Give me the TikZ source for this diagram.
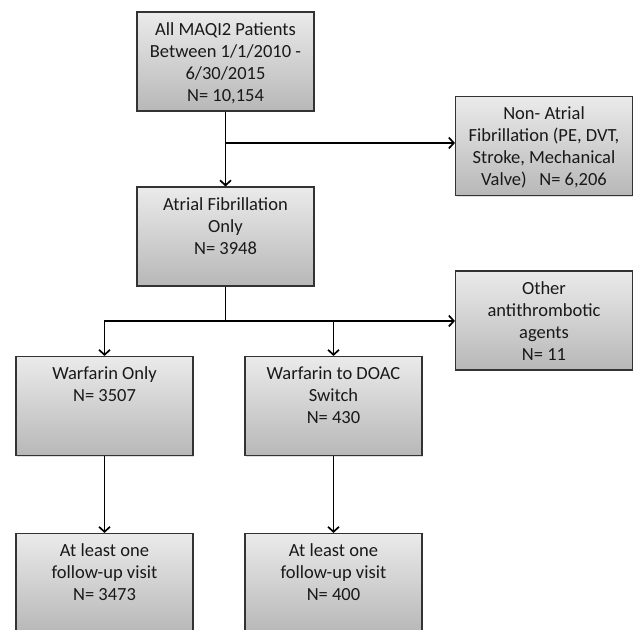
\documentclass[tikz,border=0pt]{standalone}
\usepackage{fontspec}
\setmainfont{Carlito}
\usetikzlibrary{arrows.meta,shadows}
\begin{document}
\begin{tikzpicture}[x=1pt,y=1pt,
		box/.style={draw=black!80,line width=1.1pt,rectangle,minimum width=177pt,minimum height=99pt,inner sep=0pt,top color=black!8,bottom color=black!28,drop shadow={shadow xshift=1.2pt,shadow yshift=-1.2pt,opacity=.25}},
		txt/.style={anchor=north,align=center,inner sep=0pt,text=black!90,font=\fontsize{18.5}{22}\selectfont},
		arr/.style={line width=1.7pt,-{Straight Barb[length=5pt,width=11pt]}}]
	\clip (0,0) rectangle (633,630);
	\node[box] (all) at (225.5,568.5) {};
	\node[box] (nonaf) at (544,484) {};
	\node[box] (af) at (225.5,393.5) {};
	\node[box] (other) at (544,309.5) {};
	\node[box] (warf) at (104.5,224) {};
	\node[box] (doac) at (333.5,224) {};
	\node[box] (fuw) at (104.5,47) {};
	\node[box] (fud) at (333.5,47) {};
	\node[txt] (allT) at ([yshift=-11pt]all.north) {All MAQI2 Patients\\Between 1/1/2010 -\\6/30/2015\\N= 10,154};
	\node[txt] (nonafT) at ([yshift=-11pt]nonaf.north) {Non- Atrial\\Fibrillation (PE, DVT,\\Stroke, Mechanical\\Valve)\ \ \ N= 6,206};
	\node[txt] (afT) at ([yshift=-11pt]af.north) {Atrial Fibrillation\\Only\\N= 3948};
	\node[txt] (otherT) at ([yshift=-11pt]other.north) {Other\\antithrombotic\\agents\\N= 11};
	\node[txt] (warfT) at ([yshift=-11pt]warf.north) {Warfarin Only\\N= 3507};
	\node[txt] (doacT) at ([yshift=-11pt]doac.north) {Warfarin to DOAC\\Switch\\N= 430};
	\node[txt] (fuwT) at ([yshift=-11pt]fuw.north) {At least one\\follow-up visit\\N= 3473};
	\node[txt] (fudT) at ([yshift=-11pt]fud.north) {At least one\\follow-up visit\\N= 400};
	\coordinate (j1) at (225.5,487);
	\coordinate (j2) at (225.5,309);
	\draw[arr] (all.south) -- (af.north);
	\draw[arr] (j1) -- (nonaf.west |- j1);
	\draw[arr] (af.south) -- (j2) -- (other.west |- j2);
	\draw[arr] (j2) -| (warf.north);
	\draw[arr] (j2) -| (doac.north);
	\draw[arr] (warf.south) -- (fuw.north);
	\draw[arr] (doac.south) -- (fud.north);
\end{tikzpicture}
\end{document}
